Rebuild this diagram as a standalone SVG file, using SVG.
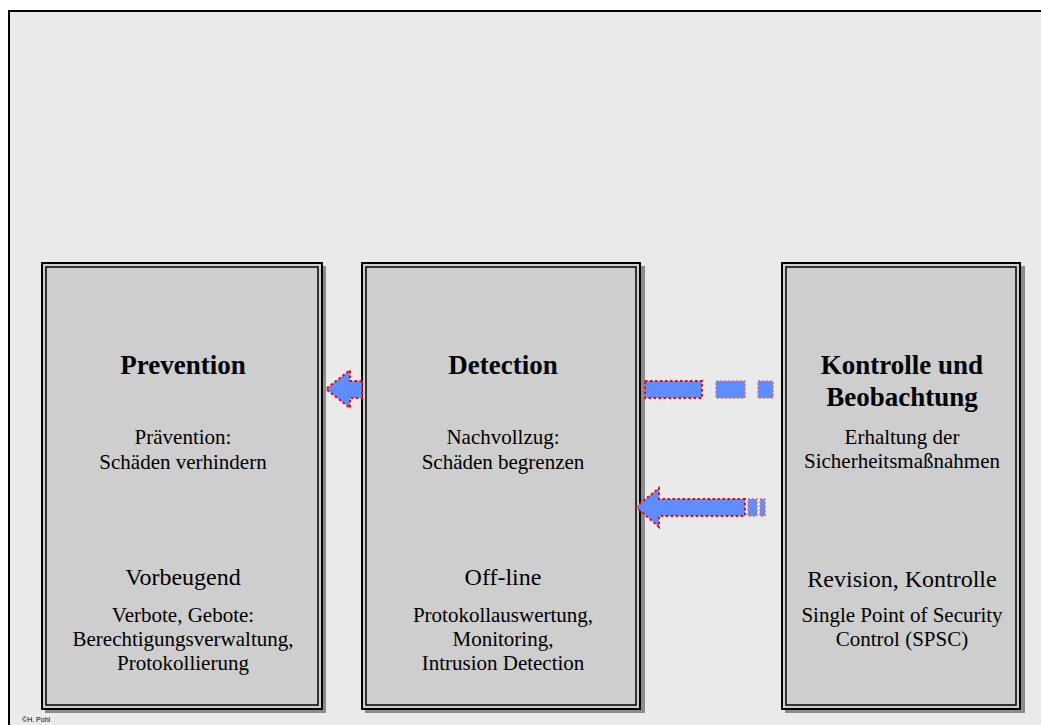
<svg xmlns="http://www.w3.org/2000/svg" width="1041" height="725" viewBox="0 0 1041 725">
<style>
.bg{fill:#eaeaea;stroke:#000;stroke-width:2}
.sh{fill:#8c8c8c}
.box{fill:#cecece;stroke:#000;stroke-width:2}
.inner{fill:none;stroke:#000;stroke-width:1.5}
.t{font-family:"Liberation Serif","Times New Roman",serif;fill:#000;text-anchor:middle}
.h{font-size:27px;font-weight:bold}
.s{font-size:21px}
.m{font-size:24px}
.arr{fill:#5f8cff;stroke:#ff0000;stroke-width:2;stroke-dasharray:2.5 2.5}
.arr2{fill:#5f8cff;stroke:#e07090;stroke-width:1.5;stroke-dasharray:2 2}
</style>
<rect x="0" y="0" width="1041" height="725" fill="#fff"/>
<rect class="bg" x="9" y="11" width="1040" height="720"/>
<g id="prevention">
<rect class="sh" x="45" y="266" width="281" height="447"/>
<rect class="box" x="42" y="263" width="280" height="446"/>
<rect class="inner" x="46" y="267" width="272" height="438"/>
<text class="t h" x="183" y="374">Prevention</text>
<text class="t s" x="183" y="444">Prävention:</text>
<text class="t s" x="183" y="469">Schäden verhindern</text>
<text class="t m" x="183" y="585">Vorbeugend</text>
<text class="t s" x="183" y="622">Verbote, Gebote:</text>
<text class="t s" x="183" y="646">Berechtigungsverwaltung,</text>
<text class="t s" x="183" y="670">Protokollierung</text>
</g>
<g id="detection">
<rect class="sh" x="365" y="266" width="280" height="447"/>
<rect class="box" x="362" y="263" width="278" height="446"/>
<rect class="inner" x="366" y="267" width="270" height="438"/>
<text class="t h" x="503" y="374">Detection</text>
<text class="t s" x="503" y="444">Nachvollzug:</text>
<text class="t s" x="503" y="469">Schäden begrenzen</text>
<text class="t m" x="503" y="585">Off-line</text>
<text class="t s" x="503" y="622">Protokollauswertung,</text>
<text class="t s" x="503" y="646">Monitoring,</text>
<text class="t s" x="503" y="670">Intrusion Detection</text>
</g>
<g id="kontrolle">
<rect class="sh" x="785" y="266" width="240" height="447"/>
<rect class="box" x="782" y="263" width="238" height="446"/>
<rect class="inner" x="786" y="267" width="230" height="438"/>
<text class="t h" x="902" y="374">Kontrolle und</text>
<text class="t h" x="902" y="406">Beobachtung</text>
<text class="t s" x="902" y="444">Erhaltung der</text>
<text class="t s" x="902" y="468">Sicherheitsmaßnahmen</text>
<text class="t m" x="902" y="587">Revision, Kontrolle</text>
<text class="t s" x="902" y="622">Single Point of Security</text>
<text class="t s" x="902" y="646">Control (SPSC)</text>
</g>
<g id="connectors">
<polygon class="arr" points="362,381 350,381 350,370 326,389 350,408 350,398 362,398"/>
<rect class="arr" x="645" y="381" width="57" height="17"/>
<rect class="arr2" x="716" y="381" width="29" height="17"/>
<rect class="arr2" x="758" y="381" width="15" height="17"/>
<polygon class="arr" points="745,499 659,499 659,488 636,507 659,527 659,516 745,516"/>
<rect class="arr2" x="748" y="499" width="9" height="17"/>
<rect class="arr2" x="760" y="499" width="5" height="17"/>
</g>
<text x="22" y="722" font-family="Liberation Sans, Arial, sans-serif" font-size="7" fill="#000">©H. Pohl</text>
</svg>
